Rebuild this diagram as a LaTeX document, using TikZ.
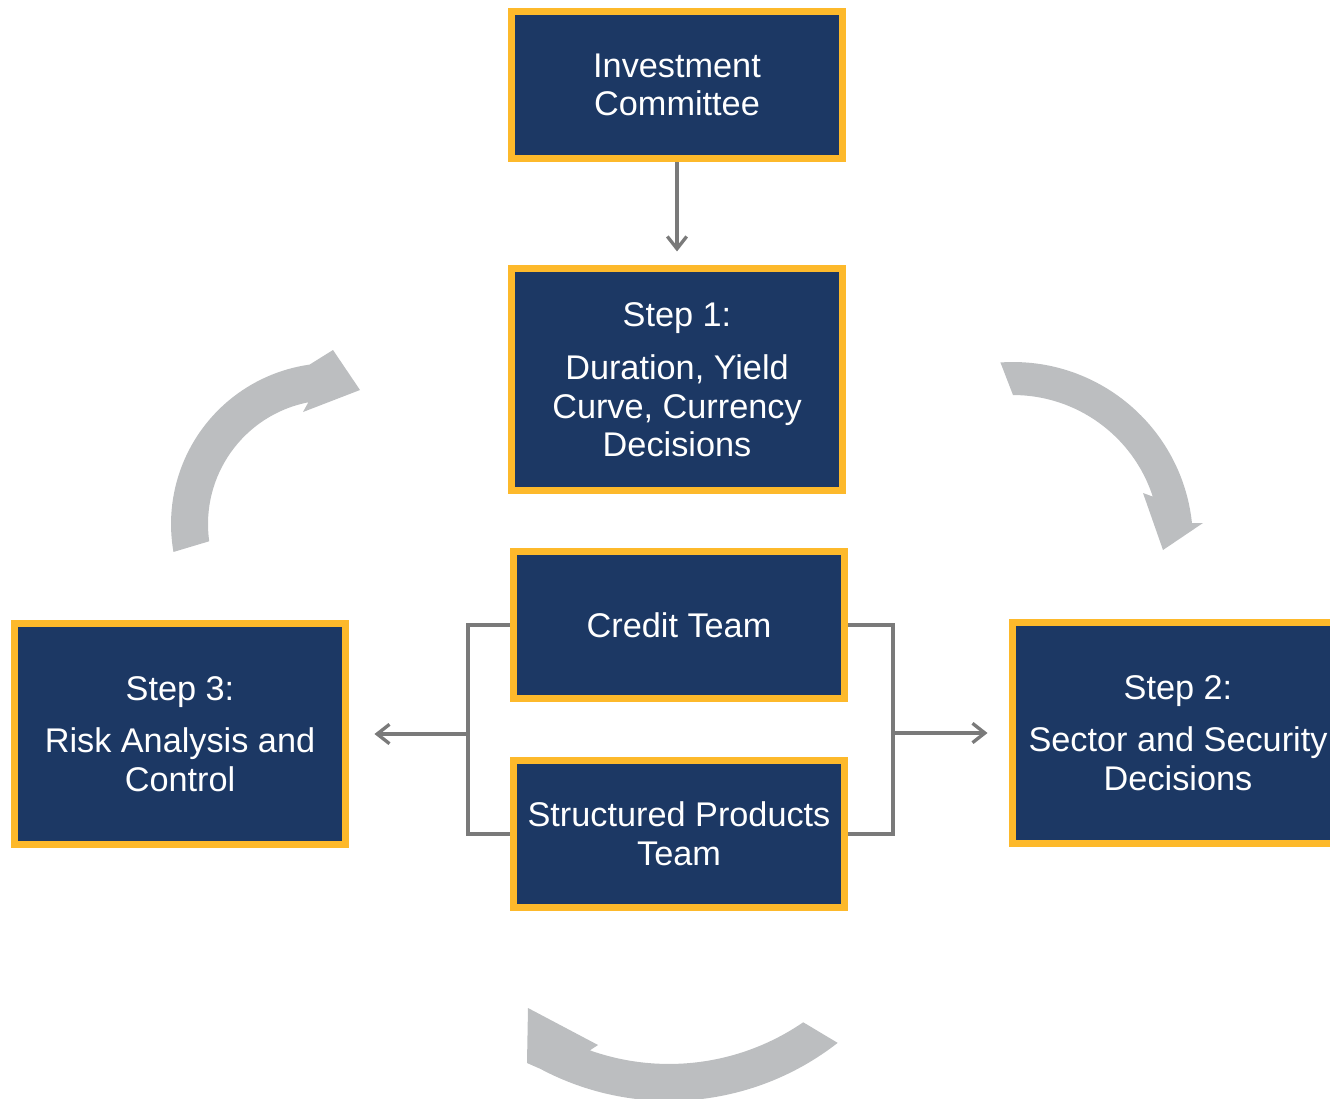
\documentclass[tikz,border=0pt]{standalone}
\usepackage{fontspec}
\setsansfont{Liberation Sans}
\usetikzlibrary{arrows.meta}
\definecolor{boxnavy}{HTML}{1C3864}
\definecolor{boxgold}{HTML}{FDB92B}
\definecolor{linkgray}{HTML}{7A7A7A}
\definecolor{cyclegray}{HTML}{BCBEC0}

\begin{document}
\begin{tikzpicture}[x=0.02cm,y=-0.02cm,>={Straight Barb[length=7pt,width=11pt]},node distance=2cm,
  stepbox/.style={rectangle,draw=boxgold,fill=boxnavy,line width=4pt,text=white,align=center,
    minimum width=6.64cm,minimum height=2.94cm,inner sep=2pt,font=\sffamily\fontsize{19.5}{22}\selectfont},
  tallbox/.style={stepbox,minimum height=4.44cm},
  link/.style={draw=linkgray,line width=1.9pt}]

  \useasboundingbox (0,0) rectangle (1330,1099);
  \clip (0,0) rectangle (1330,1099);

  % cycle arrows
  \coordinate (c1) at (332,524);
  \coordinate (c2) at (1013,542);
  \coordinate (c3) at (669,827);
  \fill[cyclegray] ([shift={(190:3.22cm)}]c1) arc[start angle=190, end angle=98, radius=3.22cm]
    -- (333,350) -- (360,390) -- (303,412)
    -- ([shift={(101:2.48cm)}]c1) arc[start angle=101, end angle=188, radius=2.48cm] -- cycle;
  \fill[cyclegray] ([shift={(94:3.6cm)}]c2) arc[start angle=94, end angle=6, radius=3.6cm]
    -- (1203,523) -- (1163,550) -- (1143,493)
    -- ([shift={(18:2.94cm)}]c2) arc[start angle=18, end angle=90, radius=2.94cm] -- cycle;
  \fill[cyclegray] ([shift={(-52:5.48cm)}]c3) arc[start angle=-52, end angle=-118, radius=5.48cm]
    -- (527,1063) -- (528,1008) -- (598,1045)
    -- ([shift={(-109.5:4.74cm)}]c3) arc[start angle=-109.5, end angle=-55.5, radius=4.74cm] -- cycle;

  \node[stepbox] (ic) at (677,85) {Investment\\Committee};
  \node[tallbox] (s1) [below of = ic, node distance=5.9cm] {Step 1:\\[8pt]Duration, Yield\\Curve, Currency\\Decisions};
  \node[stepbox] (ct) [below of = s1, node distance=4.9cm, xshift=0.04cm] {Credit Team};
  \node[stepbox] (sp) [below of = ct, node distance=4.18cm] {Structured Products\\Team};
  \node[tallbox] (s3) at (180,734) {Step 3:\\[8pt]Risk Analysis and\\Control};
  \node[tallbox] (s2) at (1178,733) {Step 2:\\[8pt]Sector and Security\\Decisions};

  \coordinate (lj) at (468,734);
  \coordinate (rj) at (893,733);

  \draw[link,->,shorten >=0.28cm] (ic) -- (s1);
  \draw[link] (ct.west) -| (lj) |- (sp.west);
  \draw[link] (ct.east) -| (rj) |- (sp.east);
  \draw[link,->,shorten >=0.5cm] (lj) -- (s3);
  \draw[link,->,shorten >=0.42cm] (rj) -- (s2);
\end{tikzpicture}
\end{document}
